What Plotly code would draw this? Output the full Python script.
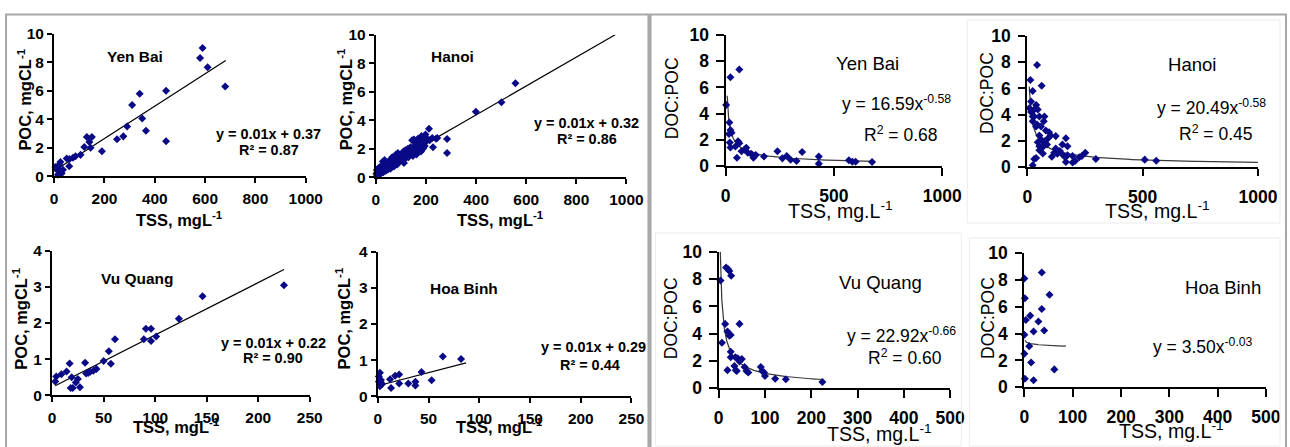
import numpy as np
import plotly.graph_objects as go

W, H = 1290, 447          # target picture size (layout coordinates below are in these pixels)
PW, PH = 1318, 465        # page size of the plot container
K = 1.03                  # size compensation for container/picture ratio

# ---------------- POC vs TSS ----------------
yb_tss = [590, 580, 610, 680, 445, 340, 310, 350, 365, 290, 275, 445, 250, 190, 130, 150, 140, 120, 145,
          105, 85, 75, 60, 50, 60, 25, 20, 12, 8, 20, 25, 30, 15, 5, 35]
yb_poc = [9.0, 8.3, 7.65, 6.3, 6.0, 5.8, 5.0, 4.05, 3.2, 3.5, 2.8, 2.45, 2.6, 1.75, 2.75, 2.75, 2.4, 2.05, 2.0,
          1.5, 1.4, 1.3, 1.2, 1.25, 0.7, 1.0, 0.8, 0.6, 0.5, 0.4, 0.3, 0.2, 0.1, 0.65, 0.45]

hn_tss = [2, 4, 5, 6, 8, 10, 12, 14, 15, 18, 20, 22, 24, 25, 28, 30, 32, 35, 36, 38, 40, 42, 45, 48, 50, 52,
          55, 58, 60, 62, 65, 68, 70, 72, 75, 78, 80, 82, 85, 88, 90, 95, 100, 105, 110, 112, 115, 118, 120,
          125, 128, 130, 135, 138, 140, 145, 148, 150, 152, 155, 158, 160, 162, 165, 168, 170, 172, 175, 178,
          180, 182, 185, 188, 190, 192, 195, 198, 200, 205, 215, 225, 240, 212, 245, 228, 284, 284, 399, 501, 557]
hn_poc = [0.25, 0.5, 0.1, 0.35, 0.6, 0.3, 0.45, 0.2, 0.7, 0.4, 0.55, 0.3, 0.8, 0.5, 1.1, 0.35, 0.75, 1.2, 0.6,
          0.9, 0.45, 1.0, 0.7, 0.55, 1.1, 0.8, 0.95, 0.6, 1.2, 0.85, 1.4, 0.9, 1.1, 0.75, 1.3, 1.0, 1.6, 1.2,
          0.9, 1.7, 1.3, 1.1, 1.5, 1.25, 1.8, 1.0, 1.5, 1.9, 1.35, 1.7, 2.0, 1.4, 1.6, 2.1, 1.75, 2.6, 1.5, 2.0,
          2.65, 1.8, 2.3, 2.55, 1.6, 2.1, 2.7, 1.9, 2.4, 2.15, 2.6, 1.8, 2.9, 2.3, 2.0, 2.75, 2.4, 2.2, 3.0, 2.5,
          2.7, 2.6, 2.75, 2.7, 3.4, 2.75, 2.1, 2.68, 1.7, 4.6, 5.27, 6.6]

vq_tss = [225, 146, 123, 91, 96, 89, 96, 101, 61, 55, 57, 50, 43, 40, 37, 35, 33, 32, 17, 14, 9, 4, 3, 19,
          25, 23, 20, 18, 27]
vq_poc = [3.05, 2.74, 2.12, 1.84, 1.84, 1.55, 1.50, 1.63, 1.55, 1.22, 0.87, 0.95, 0.73, 0.68, 0.65, 0.62, 0.6,
          0.9, 0.88, 0.66, 0.58, 0.52, 0.38, 0.5, 0.45, 0.35, 0.2, 0.2, 0.22]

hb_tss = [82, 64, 43, 53, 37, 37, 30, 21, 17, 21, 13, 12, 2, 3, 1, 4, 2, 3, 1]
hb_poc = [1.03, 1.1, 0.67, 0.44, 0.4, 0.3, 0.35, 0.6, 0.57, 0.35, 0.23, 0.47, 0.65, 0.45, 0.4, 0.33, 0.28, 0.38, 0.55]

yb_lin = (0.01137, 0.37, 1, 682)
hn_lin = (0.01014, 0.32, 0, 955)
vq_lin = (0.0145, 0.22, 3, 225)
hb_lin = (0.0073, 0.29, 1, 87)

# ---------------- DOC:POC vs TSS ----------------
ybd_tss = [63, 22, 2, 17, 22, 27, 15, 19, 22, 57, 63, 45, 52, 73, 88, 95, 102, 117, 125, 128, 139, 177, 239,
           262, 282, 300, 327, 353, 430, 430, 569, 585, 600, 676]
ybd_ratio = [7.37, 6.77, 4.67, 3.33, 2.75, 2.55, 2.45, 1.8, 1.42, 1.9, 1.75, 1.5, 0.65, 1.15, 1.27, 1.4, 1.03,
             0.95, 0.85, 0.65, 0.85, 0.75, 1.15, 0.6, 0.78, 0.5, 0.4, 1.08, 0.75, 0.2, 0.45, 0.35, 0.35, 0.33]

hnd_tss = [42, 62, 13, 23, 16, 38, 30, 45, 23, 30, 52, 74, 23, 42, 71, 38, 59, 80, 94, 101, 90, 52, 62, 45,
           74, 85, 67, 52, 123, 167, 152, 174, 123, 141, 116, 130, 149, 106, 164, 174, 167, 196, 207, 196, 225,
           236, 251, 297, 30, 38, 23, 509, 559, 52, 67, 16, 9]
hnd_ratio = [7.78, 6.2, 6.64, 5.8, 5.0, 4.73, 4.4, 4.4, 3.86, 3.86, 3.86, 3.86, 3.5, 3.25, 3.5, 3.1, 3.1, 2.8,
             2.67, 2.42, 2.2, 2.42, 2.05, 1.9, 1.97, 1.73, 1.55, 1.6, 2.37, 2.2, 1.73, 1.6, 1.42, 1.24, 1.1, 1.03,
             1.03, 0.8, 0.76, 0.92, 0.4, 0.36, 0.48, 0.85, 0.76, 0.85, 1.1, 0.63, 0.63, 0.7, 0.15, 0.58, 0.5,
             1.3, 1.05, 4.2, 4.5]

vqd_tss = [16, 20, 23, 27, 4, 7, 14, 45, 19, 26, 23, 26, 26, 36, 41, 50, 45, 34, 39, 19, 37, 56, 60, 64, 91,
           94, 98, 100, 122, 145, 224]
vqd_ratio = [8.86, 8.74, 8.6, 8.25, 7.9, 3.33, 4.72, 4.72, 4.16, 3.9, 3.85, 2.68, 2.27, 2.27, 2.2, 2.14, 1.97,
             1.63, 1.27, 1.33, 1.33, 1.56, 1.27, 1.15, 1.56, 1.27, 1.15, 0.9, 0.7, 0.66, 0.46]

hbd_tss = [0, 36, 52, 1, 36, 12, 3, 29, 19, 41, 0, 10, 0, 14, 62, 1, 19]
hbd_ratio = [8.1, 8.54, 6.89, 6.62, 5.83, 5.33, 5.0, 4.89, 4.15, 4.22, 3.9, 3.06, 2.5, 1.85, 1.33, 0.64, 0.52]

ybd_pow = (16.59, -0.58, 7, 680)
hnd_pow = (20.49, -0.58, 8, 1000)
vqd_pow = (22.92, -0.66, 3.5, 225)
hbd_pow = (3.50, -0.03, 1, 86)

MARK = "#0a0a86"
FONT = "Liberation Sans"

fig = go.Figure()

def fx(x):
    return x / W

def fy(y):
    return 1 - y / H

panels = [
    dict(x=yb_tss, y=yb_poc, fit=("lin", yb_lin), box=(57, 308, 32, 175), xr=1000, xd=200, yr=10, yd=2, kind="poc"),
    dict(x=hn_tss, y=hn_poc, fit=("lin", hn_lin), box=(378, 628, 33, 176), xr=1000, xd=200, yr=10, yd=2, kind="poc"),
    dict(x=vq_tss, y=vq_poc, fit=("lin", vq_lin), box=(55, 312, 250, 395), xr=250, xd=50, yr=4, yd=1, kind="poc"),
    dict(x=hb_tss, y=hb_poc, fit=("lin", hb_lin), box=(380, 633, 251, 396), xr=250, xd=50, yr=4, yd=1, kind="poc"),
    dict(x=ybd_tss, y=ybd_ratio, fit=("pow", ybd_pow), box=(727, 943, 33, 165), xr=1000, xd=500, yr=10, yd=2, kind="doc"),
    dict(x=hnd_tss, y=hnd_ratio, fit=("pow", hnd_pow), box=(1028, 1258, 34, 166), xr=1000, xd=500, yr=10, yd=2, kind="doc"),
    dict(x=vqd_tss, y=vqd_ratio, fit=("pow", vqd_pow), box=(720, 951, 251, 388), xr=500, xd=100, yr=10, yd=2, kind="doc"),
    dict(x=hbd_tss, y=hbd_ratio, fit=("pow", hbd_pow), box=(1025, 1266, 252, 387), xr=500, xd=100, yr=10, yd=2, kind="doc"),
]

layout_axes = {}
for i, p in enumerate(panels, start=1):
    xa = "x" if i == 1 else f"x{i}"
    ya = "y" if i == 1 else f"y{i}"
    kind, prm = p["fit"]
    if kind == "lin":
        s, b, x0, x1 = prm
        fxs = np.linspace(x0, x1, 50)
        fys = s * fxs + b
        lcol = "#000000"
    else:
        a, e, x0, x1 = prm
        fxs = np.geomspace(x0, x1, 300)
        fys = a * fxs ** e
        lcol = "#3a3a3a"
    fig.add_trace(go.Scatter(x=fxs, y=fys, mode="lines", line=dict(color=lcol, width=1.2 * K),
                             xaxis=xa, yaxis=ya, showlegend=False, hoverinfo="skip"))
    fig.add_trace(go.Scatter(x=p["x"], y=p["y"], mode="markers",
                             marker=dict(symbol="diamond", size=6 * K, color=MARK, line=dict(width=0)),
                             xaxis=xa, yaxis=ya, showlegend=False, cliponaxis=False))
    l, r, t, btm = p["box"]
    poc = p["kind"] == "poc"
    fs = (15 if poc else 17) * K
    common = dict(showgrid=False, zeroline=False, showline=True, linecolor="black", linewidth=2 * K,
                  ticks="outside", ticklen=(5 if poc else 7) * K, tickwidth=1.5 * K, tickcolor="black",
                  tickfont=dict(family=FONT, size=fs, color="black", weight="bold"), fixedrange=True)
    layout_axes["xaxis" if i == 1 else f"xaxis{i}"] = dict(
        domain=[fx(l), fx(r)], range=[0, p["xr"]], dtick=p["xd"], tick0=0, anchor=ya,
        ticklabelstandoff=2 if poc else 5, **common)
    layout_axes["yaxis" if i == 1 else f"yaxis{i}"] = dict(
        domain=[fy(btm), fy(t)], range=[0, p["yr"]], dtick=p["yd"], tick0=0, anchor=xa,
        ticklabelstandoff=0 if poc else 4, **common)

fig.update_layout(**layout_axes)

ann = []

def add(text, x, y, size, bold=True, angle=0, xanchor="center"):
    ann.append(dict(text=text, x=fx(x), y=fy(y), xref="paper", yref="paper", showarrow=False,
                    xanchor=xanchor, yanchor="middle", textangle=angle,
                    font=dict(family=FONT, size=size * K, color="black", weight="bold" if bold else "normal")))

add("Yen Bai", 138, 55, 15)
add("y = 0.01x + 0.37", 271, 133, 14)
add("R² = 0.87", 271, 149, 14)
add("Hanoi", 454, 55, 15)
add("y = 0.01x + 0.32", 588, 122, 14)
add("R² = 0.86", 589, 138, 14)
add("Vu Quang", 140, 278, 15)
add("y = 0.01x + 0.22", 276, 343, 14)
add("R² = 0.90", 275, 358, 14)
add("Hoa Binh", 466, 288, 15)
add("y = 0.01x + 0.29", 595, 347, 14)
add("R² = 0.44", 592, 365, 14)
add("Yen Bai", 868, 62, 18, bold=False)
add("y = 16.59x<sup>-0.58</sup>", 897, 101, 17, bold=False)
add("R<sup>2</sup> = 0.68", 901, 133, 17, bold=False)
add("Hanoi", 1192, 63, 18, bold=False)
add("y = 20.49x<sup>-0.58</sup>", 1212, 105, 17, bold=False)
add("R<sup>2</sup> = 0.45", 1216, 132, 17, bold=False)
add("Vu Quang", 881, 282, 18, bold=False)
add("y = 22.92x<sup>-0.66</sup>", 902, 334, 17, bold=False)
add("R<sup>2</sup> = 0.60", 906, 357, 17, bold=False)
add("Hoa Binh", 1223, 287, 18, bold=False)
add("y = 3.50x<sup>-0.03</sup>", 1203, 346, 17, bold=False)

for (x, y) in [(182, 218), (502, 218), (179, 426), (501, 426)]:
    add("TSS, mgL<sup>-1</sup>", x, y, 16)
for (x, y) in [(27, 98), (347, 98), (23, 318), (345, 318)]:
    add("POC, mgCL<sup>-1</sup>", x, y, 16, angle=-90)
for (x, y) in [(842, 209), (1158, 209), (880, 433), (1172, 430)]:
    add("TSS, mg.L<sup>-1</sup>", x, y, 19, bold=False)
for (x, y) in [(673, 97), (987, 91), (672, 318), (988, 317)]:
    add("DOC:POC", x, y, 17, bold=False, angle=-90)

shapes = []
G = "#a8a8a8"

def line(x0, y0, x1, y1, w, c=G):
    shapes.append(dict(type="line", xref="paper", yref="paper", x0=fx(x0), y0=fy(y0), x1=fx(x1), y1=fy(y1),
                       line=dict(color=c, width=w * K)))

line(8, 12.5, 1287, 12.5, 2)
line(9, 12, 9, 447, 2)
line(651, 12, 651, 447, 4)
line(1286, 12, 1286, 447, 2)

def rect(x0, y0, x1, y1, c="#ececec"):
    shapes.append(dict(type="rect", xref="paper", yref="paper", x0=fx(x0), y0=fy(y0), x1=fx(x1), y1=fy(y1),
                       line=dict(color=c, width=1)))

rect(968, 18, 1280, 222)
rect(657, 232, 962, 446)
rect(970, 237, 1280, 446)

fig.update_layout(autosize=True, margin=dict(l=0, r=0, t=0, b=0), paper_bgcolor="white",
                  plot_bgcolor="rgba(0,0,0,0)", annotations=ann, shapes=shapes, showlegend=False)

fig.write_html("out.html", default_width=f"{PW}px", default_height=f"{PH}px; margin:-8px; overflow:hidden")
